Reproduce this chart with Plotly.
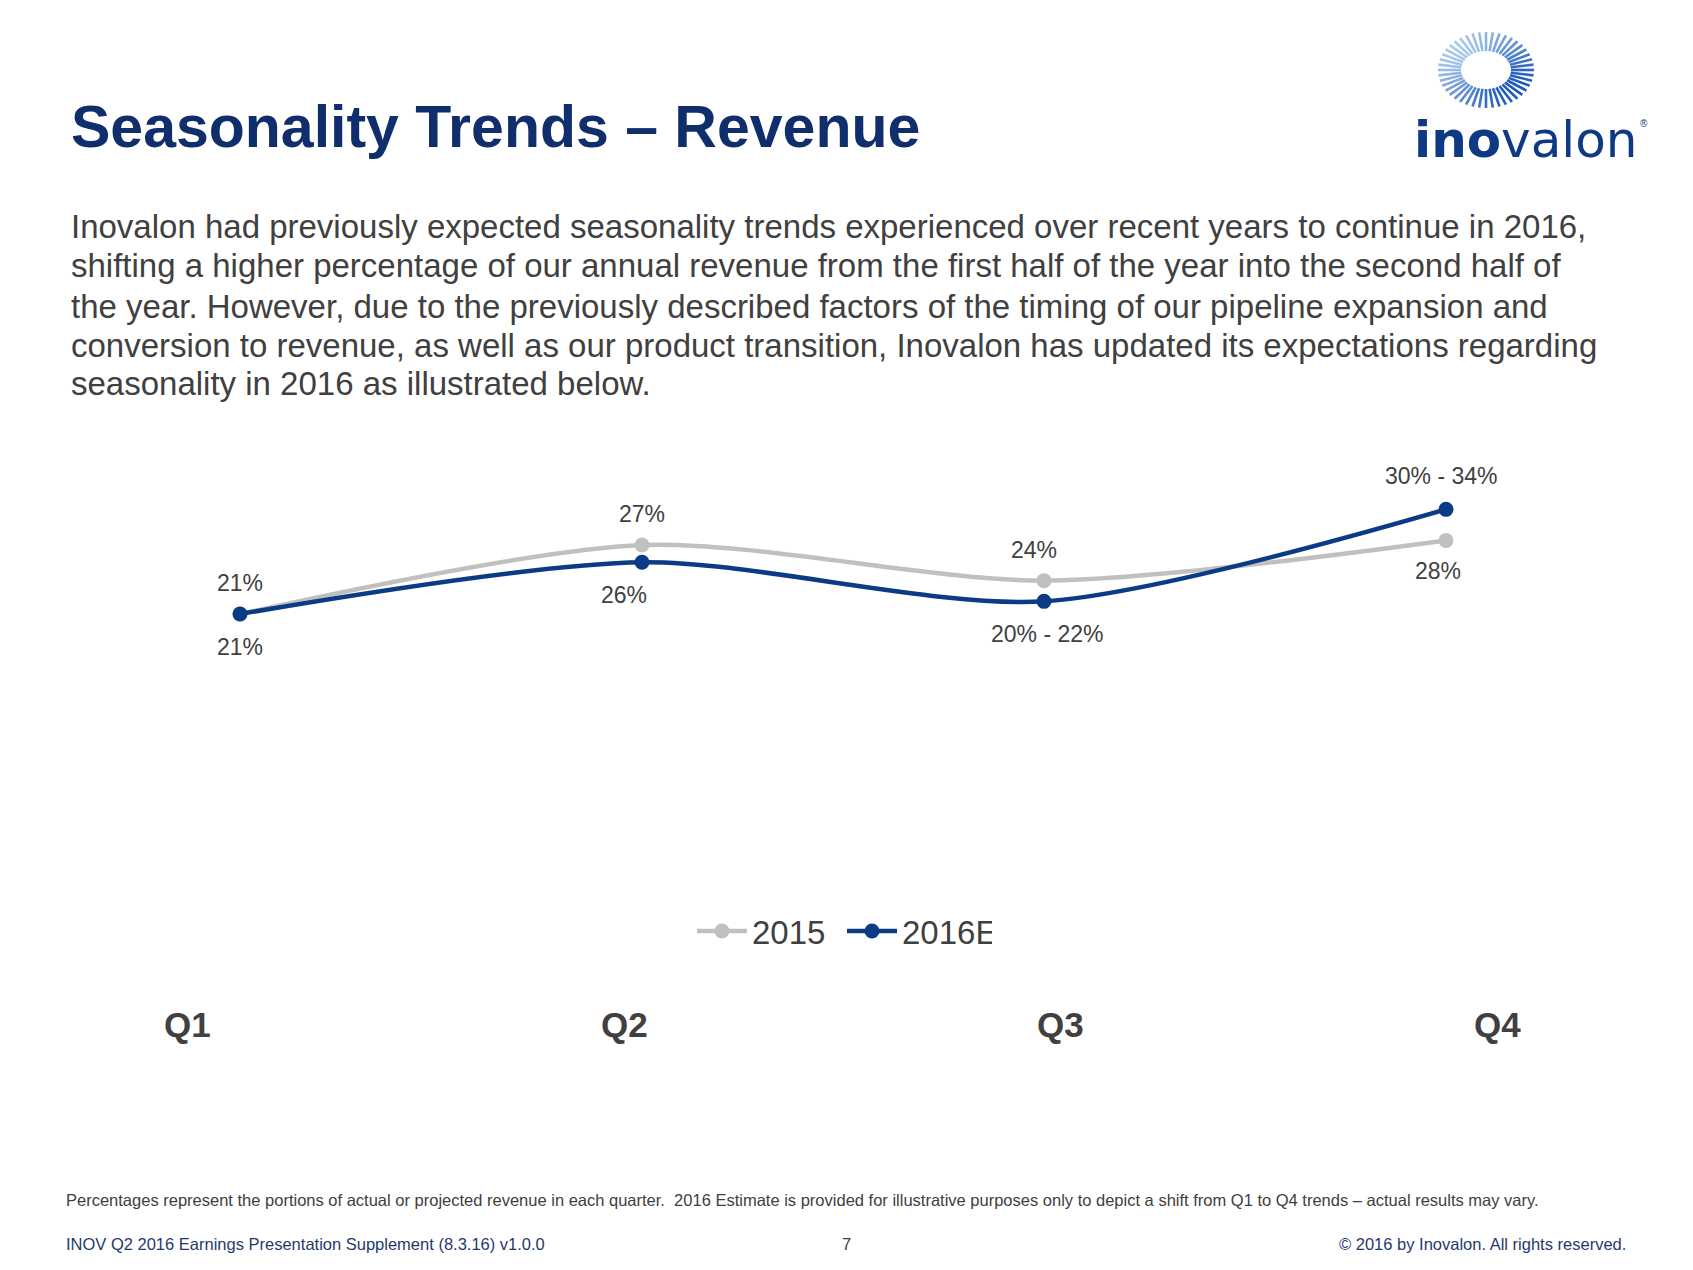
import math
import plotly.graph_objects as go

SW, SH = 1693, 1270      # screen size
OFF = 8                  # default page body margin
W, H = SW - 2 * OFF, SH - 2 * OFF

# ---- data ----
quarters = ["Q1", "Q2", "Q3", "Q4"]
series_2015 = [21, 27, 23.9, 27.4]
series_2016e = [21, 25.5, 22.1, 30.1]
labels_2015 = ["21%", "27%", "24%", "28%"]
labels_2016e = ["21%", "26%", "20% - 22%", "30% - 34%"]
# label placement: +1 above, -1 below
pos_2015 = [1, 1, 1, -1]
pos_2016e = [-1, -1, -1, 1]
xshift_2015 = [0, 0, -10, -8]
xshift_2016e = [0, -18, 3, -5]

title_text = "Seasonality Trends \u2013 Revenue"
paragraph_lines = [
    "Inovalon had previously expected seasonality trends experienced over recent years to continue in 2016,",
    "shifting a higher percentage of our annual revenue from the first half of the year into the second half of",
    "the year. However, due to the previously described factors of the timing of our pipeline expansion and",
    "conversion to revenue, as well as our product transition, Inovalon has updated its expectations regarding",
    "seasonality in 2016 as illustrated below.",
]
footnote = ("Percentages represent the portions of actual or projected revenue in each quarter.  "
            "2016 Estimate is provided for illustrative purposes only to depict a shift from Q1 to Q4 "
            "trends \u2013 actual results may vary.")
footer_left = "INOV Q2 2016 Earnings Presentation Supplement (8.3.16) v1.0.0"
footer_page = "7"
footer_right = "\u00a9 2016 by Inovalon. All rights reserved."

NAVY = "#0C3B86"
GRAY = "#C0C0C0"
TXT = "#404040"
TITLE = "#0F2E6B"
FOOT = "#1F3A6E"
FONT = "Liberation Sans, Arial, sans-serif"


def px(x):
    return (x - OFF) / W


def py(y):
    return 1 - (y - OFF) / H


fig = go.Figure()
xs = list(range(len(quarters)))
fig.add_trace(go.Scatter(
    x=xs, y=series_2015, name="2015", mode="lines+markers",
    line=dict(color=GRAY, width=4.5, shape="spline", smoothing=0.8),
    marker=dict(size=15, color=GRAY), hoverinfo="skip"))
fig.add_trace(go.Scatter(
    x=xs, y=series_2016e, name="2016E", mode="lines+markers",
    line=dict(color=NAVY, width=4.5, shape="spline", smoothing=0.8),
    marker=dict(size=15, color=NAVY), hoverinfo="skip"))

annotations = []
for i in xs:
    annotations.append(dict(x=i, y=series_2015[i], xref="x", yref="y", text=labels_2015[i],
                            showarrow=False, yshift=31 * pos_2015[i], xshift=xshift_2015[i],
                            font=dict(size=23, color=TXT, family=FONT)))
    annotations.append(dict(x=i, y=series_2016e[i], xref="x", yref="y", text=labels_2016e[i],
                            showarrow=False, yshift=33 * pos_2016e[i], xshift=xshift_2016e[i],
                            font=dict(size=23, color=TXT, family=FONT)))

# quarter labels
q_x = [187, 624, 1060, 1497]
for q, qx in zip(quarters, q_x):
    annotations.append(dict(x=px(qx), y=py(1024), xref="paper", yref="paper", text="<b>" + q + "</b>",
                            showarrow=False, xanchor="center", yanchor="middle",
                            font=dict(size=35, color=TXT, family=FONT)))

# title
annotations.append(dict(x=px(69), y=py(127), xref="paper", yref="paper", text="<b>" + title_text + "</b>",
                        showarrow=False, xanchor="left", yanchor="middle",
                        font=dict(size=59, color=TITLE, family=FONT)))
# paragraph
line_y = [227, 266, 306, 345, 384]
for t, ly in zip(paragraph_lines, line_y):
    annotations.append(dict(x=px(69), y=py(ly), xref="paper", yref="paper", text=t,
                            showarrow=False, xanchor="left", yanchor="middle",
                            font=dict(size=33, color=TXT, family=FONT)))
# footers
annotations.append(dict(x=px(64), y=py(1200), xref="paper", yref="paper", text=footnote,
                        showarrow=False, xanchor="left", yanchor="middle",
                        font=dict(size=16.5, color=TXT, family=FONT)))
annotations.append(dict(x=px(64), y=py(1244), xref="paper", yref="paper", text=footer_left,
                        showarrow=False, xanchor="left", yanchor="middle",
                        font=dict(size=16.5, color=FOOT, family=FONT)))
annotations.append(dict(x=px(846), y=py(1244), xref="paper", yref="paper", text=footer_page,
                        showarrow=False, xanchor="center", yanchor="middle",
                        font=dict(size=16.5, color=TXT, family=FONT)))
annotations.append(dict(x=px(1628), y=py(1244), xref="paper", yref="paper", text=footer_right,
                        showarrow=False, xanchor="right", yanchor="middle",
                        font=dict(size=16.5, color=FOOT, family=FONT)))

# logo word
annotations.append(dict(x=px(1412), y=py(140), xref="paper", yref="paper",
                        text="<b>ino</b>valon",
                        showarrow=False, xanchor="left", yanchor="middle",
                        font=dict(size=50, color="#0E3A85", family="DejaVu Sans, sans-serif")))
annotations.append(dict(x=px(1638), y=py(124), xref="paper", yref="paper", text="\u00ae",
                        showarrow=False, xanchor="left", yanchor="middle",
                        font=dict(size=10, color="#0E3A85", family=FONT)))

# logo ring (decoration)
shapes = []
cx, cy = 1486, 70
n = 44
for k in range(n):
    th = 2 * math.pi * k / n
    t = (1 + math.cos(th - math.radians(40))) / 2
    r1 = int(170 - 140 * t)
    g1 = int(200 - 110 * t)
    b1 = int(235 - 45 * t)
    x0 = cx + 25 * math.cos(th)
    y0 = cy + 19 * math.sin(th)
    x1 = cx + 48 * math.cos(th)
    y1 = cy + 38 * math.sin(th)
    shapes.append(dict(type="line", xref="paper", yref="paper",
                       x0=px(x0), y0=py(y0), x1=px(x1), y1=py(y1),
                       line=dict(color=f"rgb({r1},{g1},{b1})", width=2.6)))

fig.update_layout(
    width=W, height=H,
    margin=dict(l=0, r=0, t=0, b=0),
    paper_bgcolor="white", plot_bgcolor="white",
    xaxis=dict(domain=[px(39), px(1647)], range=[-0.5, 3.5], visible=False, fixedrange=True),
    yaxis=dict(domain=[py(855.5), py(395.5)], range=[0, 40], visible=False, fixedrange=True),
    showlegend=True,
    legend=dict(orientation="h", x=px(692), y=py(931), xanchor="left", yanchor="middle",
                font=dict(size=33, color=TXT, family=FONT), itemwidth=50,
                entrywidth=85, entrywidthmode="pixels",
                bgcolor="rgba(0,0,0,0)", traceorder="normal"),
    annotations=annotations,
    shapes=shapes,
)

fig.write_html("out.html")
